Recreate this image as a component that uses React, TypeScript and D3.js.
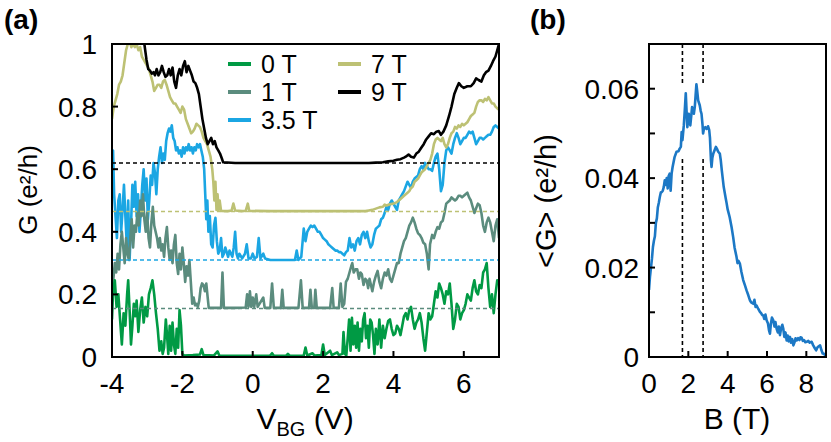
import React from "react";
import * as d3 from "d3";

// ---------- Panel (a) data: G vs V_BG (displayed values, traces offset) ----------
const fieldLabels = ["0 T", "1 T", "3.5 T", "7 T", "9 T"];
const offsets = [0, 0.155, 0.31, 0.465, 0.62];

const g0T: [number, number][] = [
  [-4.0,0.12],[-3.97,0.21],[-3.92,0.245],[-3.87,0.16],[-3.82,0.2],[-3.77,0.12],[-3.72,0.04],[-3.67,0.14],[-3.62,0.1],[-3.57,0.2],[-3.54,0.245],[-3.5,0.15],[-3.46,0.04],[-3.42,0.1],[-3.38,0.17],[-3.34,0.13],[-3.3,0.18],[-3.25,0.08],[-3.2,0.15],[-3.15,0.19],[-3.1,0.11],[-3.05,0.16],[-3.0,0.13],[-2.95,0.2],[-2.9,0.22],[-2.85,0.245],[-2.8,0.2],[-2.75,0.14],[-2.7,0.09],[-2.65,0.02],[-2.6,0.05],[-2.56,0.01],[-2.52,0.03],[-2.47,0.12],[-2.43,0.06],[-2.4,0.01],[-2.36,0.1],[-2.32,0.02],[-2.28,0.11],[-2.24,0.04],[-2.2,0.01],[-2.16,0.09],[-2.12,0.03],[-2.08,0.15],[-2.04,0.1],[-2.0,0.01],[-1.95,0.005],
  [-1.7,0.006],[-1.5,0.008],[-1.45,0.025],[-1.4,0.006],[-1.1,0.005],[-1.0,0.018],[-0.95,0.005],[-0.5,0.004],[0.0,0.004],[0.5,0.005],[0.55,0.012],[0.6,0.004],[0.95,0.004],[1.0,0.01],[1.05,0.004],[1.45,0.005],[1.5,0.03],[1.55,0.005],[1.7,0.012],[1.75,0.005],[1.95,0.006],[2.0,0.04],[2.05,0.006],[2.2,0.02],[2.25,0.006],[2.4,0.015],[2.45,0.006],[2.55,0.01],[2.58,0.08],[2.62,0.01],[2.66,0.005],
  [2.7,0.06],[2.74,0.12],[2.78,0.02],[2.82,0.125],[2.86,0.04],[2.9,0.1],[2.94,0.03],[2.98,0.11],[3.02,0.02],[3.06,0.09],[3.1,0.05],[3.14,0.12],[3.18,0.14],[3.22,0.06],[3.26,0.1],[3.3,0.03],[3.34,0.12],[3.38,0.11],[3.42,0.07],[3.46,0.01],[3.5,0.09],[3.55,0.04],[3.6,0.12],[3.65,0.03],[3.7,0.1],[3.75,0.06],[3.8,0.09],[3.85,0.115],[3.9,0.12],[3.95,0.09],[4.0,0.07],[4.05,0.075],[4.1,0.1],[4.15,0.09],[4.2,0.07],[4.25,0.1],[4.3,0.13],[4.35,0.14],[4.4,0.12],[4.45,0.15],[4.5,0.16],[4.55,0.12],[4.6,0.09],[4.65,0.11],[4.7,0.12],[4.75,0.14],[4.8,0.11],[4.85,0.06],[4.9,0.02],[4.95,0.08],[5.0,0.14],[5.05,0.12],[5.1,0.13],[5.15,0.17],[5.2,0.21],[5.25,0.19],[5.3,0.235],[5.35,0.22],[5.4,0.2],[5.45,0.17],[5.5,0.21],[5.55,0.2],[5.6,0.235],[5.65,0.17],[5.7,0.09],[5.75,0.12],[5.8,0.17],[5.85,0.16],[5.9,0.12],[5.95,0.14],[6.0,0.15],[6.05,0.17],[6.1,0.2],[6.15,0.19],[6.2,0.18],[6.25,0.22],[6.3,0.245],[6.35,0.21],[6.4,0.2],[6.45,0.23],[6.5,0.22],[6.55,0.27],[6.6,0.28],[6.65,0.3],[6.7,0.22],[6.75,0.16],[6.8,0.2],[6.85,0.14],[6.9,0.2],[6.95,0.245],[7.0,0.24],
];

const g1T: [number, number][] = [
  [-4.0,0.22],[-3.96,0.25],[-3.92,0.3],[-3.88,0.27],[-3.84,0.33],[-3.8,0.28],[-3.76,0.36],[-3.72,0.4],[-3.68,0.35],[-3.64,0.3],[-3.6,0.38],[-3.56,0.33],[-3.52,0.31],[-3.48,0.38],[-3.44,0.44],[-3.4,0.35],[-3.36,0.42],[-3.32,0.4],[-3.28,0.46],[-3.24,0.42],[-3.2,0.5],[-3.16,0.45],[-3.12,0.52],[-3.08,0.44],[-3.04,0.4],[-3.0,0.46],[-2.96,0.38],[-2.92,0.35],[-2.88,0.43],[-2.84,0.48],[-2.8,0.42],[-2.76,0.4],[-2.72,0.38],[-2.68,0.35],[-2.64,0.38],[-2.6,0.34],[-2.56,0.36],[-2.52,0.32],[-2.48,0.38],[-2.44,0.415],[-2.4,0.35],[-2.36,0.31],[-2.32,0.34],[-2.28,0.3],[-2.24,0.36],[-2.2,0.39],[-2.16,0.3],[-2.12,0.265],[-2.08,0.33],[-2.04,0.28],[-2.0,0.35],[-1.96,0.3],[-1.92,0.24],[-1.88,0.29],[-1.84,0.26],[-1.8,0.31],[-1.76,0.24],[-1.72,0.17],[-1.68,0.19],[-1.64,0.165],[-1.6,0.17],[-1.56,0.16],[-1.52,0.18],[-1.48,0.22],[-1.44,0.235],[-1.4,0.23],[-1.36,0.21],[-1.32,0.235],[-1.28,0.19],[-1.25,0.157],
  [-1.0,0.157],[-0.9,0.157],[-0.86,0.27],[-0.82,0.157],[-0.5,0.157],[-0.2,0.158],[-0.16,0.2],[-0.12,0.16],[-0.08,0.21],[-0.04,0.16],[0.0,0.19],[0.04,0.16],[0.1,0.2],[0.14,0.16],[0.3,0.19],[0.34,0.157],[0.5,0.157],[0.55,0.235],[0.6,0.157],[0.8,0.157],[0.84,0.215],[0.88,0.157],[1.3,0.157],[1.37,0.245],[1.42,0.157],[1.6,0.157],[1.64,0.215],[1.68,0.157],[1.75,0.157],[1.78,0.215],[1.82,0.157],[2.2,0.157],[2.26,0.22],[2.3,0.157],[2.45,0.157],[2.5,0.235],[2.55,0.16],[2.6,0.17],[2.65,0.24],
  [2.7,0.25],[2.75,0.27],[2.8,0.29],[2.83,0.3],[2.87,0.27],[2.92,0.28],[2.97,0.28],[3.02,0.25],[3.06,0.27],[3.1,0.265],[3.15,0.23],[3.2,0.25],[3.24,0.245],[3.28,0.22],[3.32,0.25],[3.36,0.23],[3.4,0.21],[3.45,0.24],[3.5,0.26],[3.55,0.275],[3.6,0.24],[3.65,0.22],[3.7,0.25],[3.75,0.27],[3.8,0.26],[3.85,0.28],[3.9,0.25],[3.95,0.24],[4.0,0.26],[4.05,0.28],[4.1,0.3],[4.15,0.3],[4.2,0.33],[4.25,0.35],[4.3,0.37],[4.35,0.38],[4.4,0.4],[4.45,0.42],[4.5,0.43],[4.55,0.445],[4.6,0.43],[4.65,0.41],[4.7,0.395],[4.75,0.39],[4.8,0.38],[4.85,0.365],[4.9,0.36],[4.95,0.33],[5.0,0.28],[5.04,0.36],[5.1,0.39],[5.15,0.38],[5.2,0.4],[5.25,0.415],[5.3,0.41],[5.35,0.43],[5.4,0.435],[5.45,0.46],[5.5,0.49],[5.55,0.495],[5.6,0.5],[5.65,0.51],[5.7,0.505],[5.75,0.5],[5.8,0.505],[5.85,0.515],[5.9,0.515],[5.95,0.51],[6.0,0.515],[6.05,0.52],[6.1,0.525],[6.15,0.51],[6.2,0.5],[6.25,0.48],[6.3,0.46],[6.35,0.475],[6.4,0.49],[6.45,0.485],[6.5,0.46],[6.55,0.42],[6.6,0.4],[6.65,0.43],[6.7,0.445],[6.75,0.43],[6.8,0.4],[6.85,0.37],[6.9,0.42],[6.95,0.44],[7.0,0.38],
];

const g35T: [number, number][] = [
  [-4.0,0.63],[-3.97,0.66],[-3.94,0.52],[-3.9,0.45],[-3.86,0.38],[-3.82,0.5],[-3.78,0.52],[-3.74,0.4],[-3.7,0.47],[-3.66,0.55],[-3.62,0.45],[-3.58,0.36],[-3.54,0.5],[-3.5,0.31],[-3.46,0.42],[-3.42,0.55],[-3.38,0.48],[-3.34,0.56],[-3.3,0.45],[-3.26,0.52],[-3.22,0.4],[-3.18,0.47],[-3.14,0.55],[-3.1,0.6],[-3.06,0.5],[-3.02,0.57],[-2.98,0.44],[-2.94,0.5],[-2.9,0.58],[-2.86,0.55],[-2.82,0.62],[-2.78,0.59],[-2.74,0.52],[-2.7,0.6],[-2.66,0.64],[-2.62,0.67],[-2.58,0.62],[-2.54,0.65],[-2.5,0.63],[-2.46,0.69],[-2.42,0.715],[-2.38,0.73],[-2.34,0.72],[-2.3,0.74],[-2.26,0.7],[-2.22,0.69],[-2.18,0.66],[-2.14,0.67],[-2.1,0.65],[-2.06,0.66],[-2.02,0.64],[-1.98,0.67],[-1.94,0.65],[-1.9,0.67],[-1.86,0.66],[-1.82,0.68],[-1.78,0.66],[-1.74,0.67],[-1.7,0.65],[-1.66,0.67],[-1.62,0.66],[-1.58,0.68],[-1.54,0.67],[-1.5,0.68],[-1.46,0.66],[-1.42,0.64],[-1.38,0.6],[-1.35,0.52],[-1.32,0.44],[-1.29,0.5],[-1.26,0.4],[-1.22,0.45],[-1.18,0.36],[-1.14,0.35],[-1.1,0.42],[-1.06,0.445],[-1.02,0.37],[-0.98,0.33],[-0.94,0.34],[-0.9,0.38],[-0.86,0.32],[-0.82,0.33],[-0.78,0.35],[-0.74,0.335],[-0.7,0.32],[-0.66,0.34],[-0.62,0.33],[-0.58,0.32],[-0.54,0.35],[-0.5,0.4],[-0.46,0.33],[-0.42,0.315],[-0.38,0.33],[-0.3,0.315],[-0.22,0.33],[-0.17,0.36],[-0.12,0.315],[-0.05,0.315],[0.0,0.33],[0.05,0.315],[0.12,0.32],[0.17,0.38],[0.22,0.315],[0.3,0.33],[0.35,0.315],[0.5,0.31],[1.0,0.31],[1.2,0.31],[1.25,0.34],[1.3,0.31],[1.38,0.32],[1.45,0.41],[1.5,0.37],[1.55,0.4],[1.6,0.41],[1.65,0.42],[1.7,0.415],[1.75,0.42],[1.8,0.41],[1.85,0.4],[1.9,0.4],[1.95,0.39],[2.0,0.38],[2.05,0.375],[2.1,0.37],[2.15,0.36],[2.2,0.355],[2.25,0.35],[2.3,0.345],[2.35,0.34],[2.4,0.34],[2.45,0.335],[2.5,0.335],[2.55,0.33],[2.6,0.325],[2.65,0.335],[2.7,0.34],[2.75,0.38],[2.8,0.35],[2.85,0.36],[2.9,0.34],[2.95,0.37],[3.0,0.38],[3.05,0.36],[3.1,0.39],[3.15,0.4],[3.2,0.38],[3.25,0.4],[3.3,0.37],[3.35,0.35],[3.4,0.36],[3.45,0.39],[3.5,0.41],[3.55,0.415],[3.6,0.42],[3.65,0.44],[3.7,0.445],[3.75,0.46],[3.8,0.48],[3.85,0.47],[3.9,0.49],[3.95,0.5],[4.0,0.49],[4.05,0.48],[4.1,0.47],[4.15,0.5],[4.2,0.51],[4.25,0.52],[4.3,0.53],[4.35,0.545],[4.4,0.56],[4.45,0.55],[4.5,0.54],[4.55,0.56],[4.6,0.57],[4.65,0.575],[4.7,0.58],[4.75,0.6],[4.8,0.61],[4.85,0.6],[4.9,0.62],[4.95,0.61],[5.0,0.6],[5.05,0.6],[5.1,0.595],[5.15,0.62],[5.2,0.64],[5.25,0.65],[5.3,0.6],[5.35,0.53],[5.4,0.55],[5.45,0.62],[5.5,0.66],[5.55,0.67],[5.6,0.66],[5.65,0.65],[5.7,0.68],[5.75,0.7],[5.8,0.715],[5.85,0.7],[5.9,0.68],[5.95,0.69],[6.0,0.7],[6.05,0.7],[6.1,0.71],[6.15,0.72],[6.2,0.715],[6.25,0.72],[6.3,0.7],[6.35,0.68],[6.4,0.69],[6.45,0.7],[6.5,0.7],[6.55,0.695],[6.6,0.7],[6.65,0.705],[6.7,0.71],[6.75,0.71],[6.8,0.72],[6.85,0.735],[6.9,0.74],[6.95,0.735],[7.0,0.73],
];

const g7T: [number, number][] = [
  [-4.0,0.76],[-3.95,0.8],[-3.9,0.82],[-3.85,0.84],[-3.8,0.87],[-3.75,0.88],[-3.7,0.9],[-3.65,0.94],[-3.6,0.98],[-3.55,1.0],[-3.5,1.01],[-3.45,0.99],[-3.4,1.0],[-3.35,0.99],[-3.3,1.0],[-3.25,0.98],[-3.2,0.99],[-3.15,0.96],[-3.1,0.95],[-3.05,0.94],[-3.0,0.93],[-2.95,0.92],[-2.9,0.9],[-2.85,0.88],[-2.8,0.85],[-2.75,0.86],[-2.7,0.87],[-2.65,0.87],[-2.6,0.86],[-2.55,0.88],[-2.5,0.885],[-2.45,0.87],[-2.4,0.85],[-2.35,0.83],[-2.3,0.82],[-2.25,0.81],[-2.2,0.81],[-2.15,0.8],[-2.1,0.79],[-2.05,0.78],[-2.0,0.8],[-1.95,0.79],[-1.9,0.76],[-1.85,0.745],[-1.8,0.73],[-1.75,0.715],[-1.7,0.72],[-1.65,0.73],[-1.6,0.745],[-1.55,0.74],[-1.5,0.735],[-1.45,0.72],[-1.4,0.7],[-1.35,0.69],[-1.3,0.68],[-1.25,0.66],[-1.2,0.64],[-1.15,0.6],[-1.12,0.56],[-1.09,0.5],[-1.06,0.56],[-1.03,0.47],[-1.0,0.52],[-0.97,0.47],[-0.94,0.5],[-0.9,0.467],[-0.7,0.466],[-0.6,0.468],[-0.55,0.49],[-0.5,0.468],[-0.3,0.466],[-0.2,0.467],[-0.14,0.49],[-0.1,0.467],[0.5,0.466],[1.5,0.466],[2.5,0.466],[3.2,0.466],[3.3,0.468],[3.4,0.47],[3.5,0.474],[3.6,0.478],[3.7,0.48],[3.75,0.487],[3.8,0.484],[3.9,0.488],[4.0,0.49],[4.1,0.495],[4.2,0.505],[4.3,0.515],[4.4,0.525],[4.45,0.53],[4.5,0.54],[4.55,0.545],[4.6,0.56],[4.65,0.565],[4.7,0.57],[4.75,0.58],[4.8,0.59],[4.85,0.595],[4.9,0.6],[4.95,0.61],[5.0,0.62],[5.05,0.63],[5.1,0.65],[5.15,0.68],[5.2,0.695],[5.25,0.7],[5.3,0.695],[5.35,0.69],[5.4,0.7],[5.45,0.68],[5.5,0.67],[5.55,0.68],[5.6,0.7],[5.65,0.715],[5.7,0.72],[5.75,0.735],[5.8,0.73],[5.85,0.74],[5.9,0.735],[5.95,0.745],[6.0,0.74],[6.05,0.745],[6.1,0.75],[6.15,0.76],[6.2,0.77],[6.25,0.775],[6.3,0.78],[6.35,0.8],[6.4,0.815],[6.45,0.82],[6.5,0.82],[6.55,0.815],[6.6,0.825],[6.65,0.82],[6.7,0.83],[6.75,0.82],[6.8,0.81],[6.85,0.81],[6.9,0.8],[6.95,0.795],[7.0,0.79],
];

const g9T: [number, number][] = [
  [-4.0,1.08],[-3.5,1.06],[-3.2,1.03],[-3.08,1.0],[-3.02,0.95],[-2.97,0.92],[-2.92,0.915],[-2.87,0.905],[-2.82,0.91],[-2.78,0.9],[-2.73,0.92],[-2.68,0.9],[-2.63,0.91],[-2.58,0.93],[-2.53,0.91],[-2.48,0.895],[-2.43,0.9],[-2.38,0.92],[-2.33,0.9],[-2.28,0.925],[-2.23,0.88],[-2.18,0.86],[-2.13,0.9],[-2.08,0.92],[-2.03,0.9],[-1.98,0.93],[-1.93,0.945],[-1.88,0.91],[-1.83,0.93],[-1.78,0.915],[-1.73,0.9],[-1.68,0.88],[-1.63,0.875],[-1.58,0.86],[-1.53,0.84],[-1.48,0.8],[-1.43,0.76],[-1.38,0.73],[-1.33,0.7],[-1.28,0.68],[-1.23,0.69],[-1.18,0.7],[-1.13,0.68],[-1.08,0.69],[-1.03,0.67],[-0.98,0.66],[-0.93,0.65],[-0.88,0.635],[-0.84,0.622],[-0.5,0.62],[0.5,0.62],[1.5,0.62],[2.5,0.62],[3.3,0.62],[3.5,0.621],[3.7,0.622],[3.85,0.625],[4.0,0.627],[4.1,0.63],[4.2,0.632],[4.3,0.637],[4.35,0.64],[4.43,0.647],[4.5,0.64],[4.58,0.637],[4.65,0.65],[4.72,0.656],[4.8,0.67],[4.86,0.68],[4.93,0.695],[5.0,0.705],[5.07,0.715],[5.15,0.712],[5.22,0.72],[5.29,0.722],[5.35,0.71],[5.42,0.72],[5.5,0.74],[5.58,0.77],[5.65,0.8],[5.73,0.84],[5.8,0.86],[5.86,0.875],[5.93,0.865],[6.0,0.86],[6.1,0.865],[6.2,0.865],[6.28,0.875],[6.35,0.89],[6.42,0.885],[6.5,0.88],[6.57,0.9],[6.63,0.91],[6.7,0.915],[6.77,0.93],[6.83,0.945],[6.9,0.96],[6.95,0.98],[7.0,1.0],
];

const vbgTicks = [-4, -2, 0, 2, 4, 6];
const gTicks = [0, 0.2, 0.4, 0.6, 0.8, 1];
const gTickLabels = ["0", "0.2", "0.4", "0.6", "0.8", "1"];

// ---------- Panel (b) data: <G> vs B ----------
const meanG: [number, number][] = [
  [0.0,0.015],[0.05,0.018],[0.1,0.02],[0.15,0.022],[0.2,0.0246],[0.25,0.026],[0.3,0.027],[0.35,0.03],[0.4,0.031],[0.45,0.0335],[0.5,0.0345],[0.55,0.0358],[0.6,0.0368],[0.65,0.0369],[0.7,0.0372],[0.75,0.038],[0.8,0.0395],[0.85,0.0385],[0.9,0.04],[0.95,0.0377],[1.0,0.0405],[1.05,0.041],[1.1,0.0372],[1.15,0.041],[1.2,0.0425],[1.3,0.0447],[1.4,0.0459],[1.5,0.046],[1.56,0.0466],[1.62,0.047],[1.66,0.0503],[1.7,0.0485],[1.77,0.0518],[1.82,0.0552],[1.87,0.059],[1.91,0.055],[1.95,0.0514],[2.02,0.0544],[2.06,0.053],[2.1,0.0518],[2.15,0.054],[2.19,0.0559],[2.24,0.055],[2.28,0.0544],[2.33,0.056],[2.37,0.0585],[2.41,0.061],[2.45,0.0595],[2.5,0.0574],[2.58,0.0563],[2.63,0.055],[2.67,0.0544],[2.72,0.052],[2.75,0.05],[2.8,0.0512],[2.86,0.0514],[2.93,0.051],[3.0,0.0516],[3.06,0.0508],[3.1,0.049],[3.15,0.044],[3.18,0.0425],[3.22,0.0445],[3.27,0.0455],[3.33,0.0462],[3.4,0.047],[3.45,0.0466],[3.52,0.0459],[3.6,0.0455],[3.65,0.044],[3.7,0.0418],[3.8,0.038],[3.9,0.0355],[3.95,0.0343],[4.0,0.033],[4.1,0.0313],[4.2,0.029],[4.28,0.0268],[4.35,0.0245],[4.45,0.0224],[4.5,0.021],[4.55,0.0215],[4.62,0.0209],[4.7,0.019],[4.79,0.0172],[4.88,0.016],[4.96,0.0149],[5.05,0.0138],[5.13,0.0127],[5.2,0.0122],[5.3,0.0119],[5.36,0.0128],[5.42,0.0112],[5.47,0.0115],[5.55,0.0108],[5.64,0.0101],[5.7,0.0098],[5.75,0.0094],[5.81,0.0093],[5.86,0.0085],[5.92,0.0095],[5.98,0.0082],[6.05,0.0075],[6.1,0.006],[6.15,0.0052],[6.2,0.0075],[6.25,0.0088],[6.32,0.0082],[6.38,0.0068],[6.43,0.0078],[6.49,0.0063],[6.55,0.0055],[6.6,0.0068],[6.66,0.0049],[6.72,0.0065],[6.78,0.0072],[6.83,0.0063],[6.88,0.0045],[6.94,0.0055],[7.0,0.0037],[7.05,0.0048],[7.1,0.0035],[7.17,0.0045],[7.22,0.0032],[7.28,0.004],[7.34,0.0026],[7.4,0.0033],[7.45,0.0042],[7.51,0.0037],[7.58,0.0042],[7.65,0.0038],[7.7,0.0044],[7.76,0.0043],[7.82,0.0036],[7.88,0.0038],[7.95,0.0033],[8.02,0.0034],[8.1,0.0036],[8.17,0.0032],[8.27,0.0034],[8.35,0.0026],[8.44,0.0019],[8.5,0.0015],[8.57,0.0022],[8.63,0.0024],[8.7,0.0026],[8.77,0.0015],[8.83,0.0008],[8.87,0.0008],[8.93,0.0005],[9.0,0.0004],
];
const markerFields = [1.7, 2.75];
const markerGapG = [0.0443, 0.0613];
const bTicks = [0, 2, 4, 6, 8];
const meanGTicks = [0, 0.01, 0.02, 0.03, 0.04, 0.05, 0.06];
const meanGLabeled = ["0", "", "0.02", "", "0.04", "", "0.06"];

// ---------- styles ----------
const seriesColors = ["#009a44", "#5b8c7e", "#1ba6e3", "#bdc174", "#000000"];
const bColor = "#1c78c5";
const FONT = "'Liberation Sans', Arial, Helvetica, sans-serif";

export default function App() {
  const W = 831, H = 442;
  // panel a
  const ax0 = 112, ax1 = 499, ay0 = 44, ay1 = 357;
  const xA = d3.scaleLinear().domain([-4, 7]).range([ax0, ax1]);
  const yA = d3.scaleLinear().domain([0, 1]).range([ay1, ay0]);
  const lineA = d3.line<[number, number]>().x(d => xA(d[0])).y(d => yA(d[1]));
  // panel b
  const bx0 = 649, bx1 = 826, by0 = 44, by1 = 357;
  const xB = d3.scaleLinear().domain([0, 9]).range([bx0, bx1]);
  const yB = d3.scaleLinear().domain([0, 0.07]).range([by1, by0]);
  const lineB = d3.line<[number, number]>().x(d => xB(d[0])).y(d => yB(d[1]));

  const seriesA = [g0T, g1T, g35T, g7T, g9T];
  const drawOrder = [2, 1, 0, 3, 4];
  const legendPos = [
    { col: 0, row: 0 }, { col: 0, row: 1 }, { col: 0, row: 2 },
    { col: 1, row: 0 }, { col: 1, row: 1 },
  ];
  const legCols = [228, 338];
  const legRow0 = 64, legRowStep = 28;

  return (
    <svg width={W} height={H} style={{ position: "absolute", left: 0, top: 0, background: "#fff" }}
      fontFamily={FONT}>
      <defs>
        <clipPath id="clipA"><rect x={ax0} y={ay0} width={ax1 - ax0} height={ay1 - ay0} /></clipPath>
        <clipPath id="clipB"><rect x={bx0} y={by0} width={bx1 - bx0} height={by1 - by0} /></clipPath>
      </defs>
      <rect width={W} height={H} fill="#fff" />

      {/* ---------- Panel (a) ---------- */}
      <text x={4} y={29} fontSize={28} fontWeight="bold">(a)</text>
      <g clipPath="url(#clipA)">
        {drawOrder.map(i => (
          <path key={i} d={lineA(seriesA[i]) || ""} fill="none" stroke={seriesColors[i]}
            strokeWidth={2.6} strokeLinejoin="round" />
        ))}
        {offsets.map((o, i) => i === 0 ? null : (
          <line key={"d" + i} x1={ax0} x2={ax1} y1={yA(o)} y2={yA(o)} stroke={seriesColors[i]}
            strokeWidth={1.6} strokeDasharray="4,3" />
        ))}
      </g>
      <rect x={ax0} y={ay0} width={ax1 - ax0} height={ay1 - ay0} fill="none" stroke="#000" strokeWidth={2} />
      {vbgTicks.map(t => (
        <g key={"xa" + t}>
          <line x1={xA(t)} x2={xA(t)} y1={ay1} y2={ay1 - 6} stroke="#000" strokeWidth={2} />
          <text x={xA(t)} y={393} fontSize={28} textAnchor="middle">{t < 0 ? "-" + Math.abs(t) : t}</text>
        </g>
      ))}
      {gTicks.map((t, i) => (
        <g key={"ya" + t}>
          <line x1={ax0} x2={ax0 + 6} y1={yA(t)} y2={yA(t)} stroke="#000" strokeWidth={2} />
          <text x={ax0 - 15} y={yA(t)} dy="0.36em" fontSize={28} textAnchor="end">{gTickLabels[i]}</text>
        </g>
      ))}
      <text x={305} y={429} fontSize={30} textAnchor="middle">
        V<tspan fontSize={20} dy={7}>BG</tspan><tspan dy={-7}> (V)</tspan>
      </text>
      <text transform={`translate(37,190) rotate(-90)`} fontSize={26} textAnchor="middle">
        G (e²/h)
      </text>
      {/* legend */}
      {fieldLabels.map((lab, i) => {
        const p = legendPos[i];
        const lx = legCols[p.col];
        const ly = legRow0 + p.row * legRowStep;
        return (
          <g key={"lg" + i}>
            <line x1={lx} x2={lx + 23} y1={ly} y2={ly} stroke={seriesColors[i]} strokeWidth={4} />
            <text x={lx + 33} y={ly} dy="0.36em" fontSize={25}>{lab}</text>
          </g>
        );
      })}

      {/* ---------- Panel (b) ---------- */}
      <text x={530} y={29} fontSize={28} fontWeight="bold">(b)</text>
      <g clipPath="url(#clipB)">
        {markerFields.map((b, i) => (
          <g key={"m" + i}>
            <line x1={xB(b)} x2={xB(b)} y1={by0} y2={yB(markerGapG[1])} stroke="#000" strokeWidth={1.6} strokeDasharray="4,3" />
            <line x1={xB(b)} x2={xB(b)} y1={yB(markerGapG[0])} y2={by1} stroke="#000" strokeWidth={1.6} strokeDasharray="4,3" />
          </g>
        ))}
        <path d={lineB(meanG) || ""} fill="none" stroke={bColor} strokeWidth={2.6} strokeLinejoin="round" />
      </g>
      <rect x={bx0} y={by0} width={bx1 - bx0} height={by1 - by0} fill="none" stroke="#000" strokeWidth={2} />
      {bTicks.map(t => (
        <g key={"xb" + t}>
          <line x1={xB(t)} x2={xB(t)} y1={by1} y2={by1 - 6} stroke="#000" strokeWidth={2} />
          <text x={xB(t)} y={393} fontSize={28} textAnchor="middle">{t}</text>
        </g>
      ))}
      {meanGTicks.map((t, i) => (
        <g key={"yb" + t}>
          <line x1={bx0} x2={bx0 + 6} y1={yB(t)} y2={yB(t)} stroke="#000" strokeWidth={2} />
          {meanGLabeled[i] && (
            <text x={bx0 - 10} y={yB(t)} dy="0.36em" fontSize={28} textAnchor="end">{meanGLabeled[i]}</text>
          )}
        </g>
      ))}
      <text x={737} y={429} fontSize={30} textAnchor="middle">B (T)</text>
      <text transform={`translate(556,201) rotate(-90)`} fontSize={29} textAnchor="middle">
        &lt;G&gt; (e²/h)
      </text>
    </svg>
  );
}
